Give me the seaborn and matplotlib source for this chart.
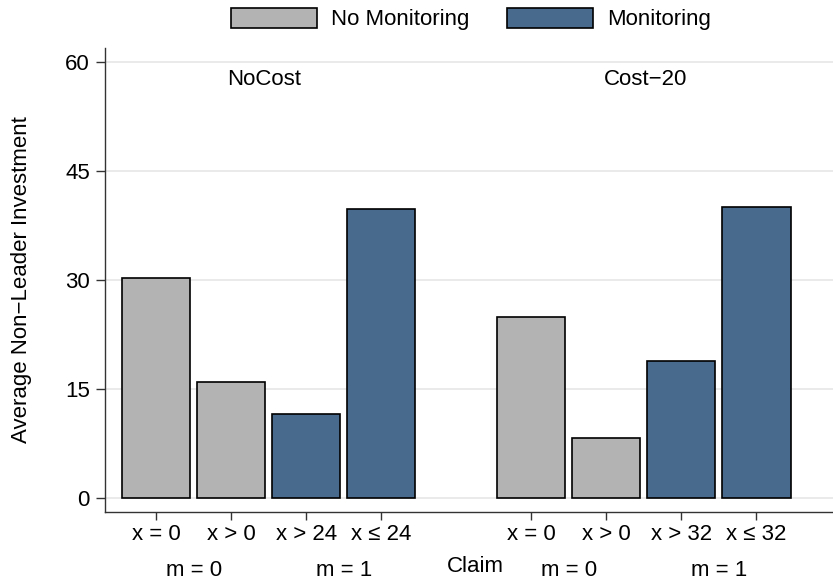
import numpy as np
import pandas as pd
import matplotlib
matplotlib.use("Agg")
import matplotlib.pyplot as plt
import seaborn as sns
from matplotlib.transforms import blended_transform_factory

# ---- data ----
conditions = ["NoCost", "Cost\u221220"]
claim_labels_nocost = ["x = 0", "x > 0", "x > 24", "x \u2264 24"]
claim_labels_cost20 = ["x = 0", "x > 0", "x > 32", "x \u2264 32"]
m_labels = ["m = 0", "m = 1"]
monitoring = ["No Monitoring", "No Monitoring", "Monitoring", "Monitoring"]
nocost_values = [30.2, 15.9, 11.6, 39.75]
cost20_values = [24.9, 8.25, 18.9, 40.0]
y_ticks = [0, 15, 30, 45, 60]

sns.set_theme(style="white")
plt.rcParams["font.family"] = ["Liberation Sans", "DejaVu Sans"]
plt.rcParams["text.color"] = "black"
plt.rcParams["axes.labelcolor"] = "black"
plt.rcParams["xtick.color"] = "black"
plt.rcParams["ytick.color"] = "black"

GRAY = "#b3b3b3"
BLUE = "#486a8c"

rows = []
for g, vals in enumerate([nocost_values, cost20_values]):
    for i, v in enumerate(vals):
        rows.append({"pos": g * 5 + i, "value": v, "monitor": monitoring[i]})
df = pd.DataFrame(rows)

fig = plt.figure(figsize=(8.33, 5.86), dpi=100)
ax = fig.add_axes([105 / 833, 74 / 586, 728 / 833, 464 / 586])

sns.barplot(data=df, x="pos", y="value", hue="monitor",
            hue_order=["No Monitoring", "Monitoring"], palette=[GRAY, BLUE],
            native_scale=True, dodge=False, width=0.907, saturation=1,
            edgecolor="black", linewidth=1.2, ax=ax, zorder=3)

handles, labels = ax.get_legend_handles_labels()
if ax.get_legend() is not None:
    ax.get_legend().remove()

ax.set_xlim(-0.684, 9.02)
ax.set_ylim(-1.925, 61.88)
ax.set_yticks(y_ticks)
ax.set_yticklabels([str(t) for t in y_ticks], fontsize=16)
ax.set_xticks(df["pos"].tolist())
ax.set_xticklabels(claim_labels_nocost + claim_labels_cost20, fontsize=16)

ax.yaxis.grid(True, color="#e6e6e6", linewidth=1.2)
ax.xaxis.grid(False)
ax.set_axisbelow(True)

for s in ["top", "right"]:
    ax.spines[s].set_visible(False)
for s in ["left", "bottom"]:
    ax.spines[s].set_color("#333333")
    ax.spines[s].set_linewidth(1.0)

ax.tick_params(axis="y", direction="out", length=6.5, width=1.0, color="#333333",
               pad=4.3, left=True, labelcolor="black")
ax.tick_params(axis="x", direction="out", length=6, width=1.0, color="#333333",
               pad=3, bottom=True, labelcolor="black")

ax.set_ylabel("Average Non\u2212Leader Investment", fontsize=16, color="black")
ax.yaxis.label.set(ha="center", va="center")
ax.yaxis.set_label_coords((22 - 105) / 728, 0.5)

ax.set_xlabel("Claim", fontsize=16, color="black")
ax.xaxis.label.set(ha="center", va="center")
ax.xaxis.set_label_coords((475 - 105) / 728, (512 - 566) / 464)

trans = blended_transform_factory(ax.transData, ax.transAxes)
for g in range(2):
    for j, lab in enumerate(m_labels):
        xc = g * 5 + j * 2 + 0.5
        ax.text(xc, (512 - 570) / 464, lab, transform=trans, ha="center",
                va="center", fontsize=16, color="black")

ax.text(1.436, 57.5, conditions[0], ha="center", va="center", fontsize=16, color="black")
ax.text(6.516, 57.5, conditions[1], ha="center", va="center", fontsize=16, color="black")

leg = fig.legend(handles, labels, loc="center", bbox_to_anchor=(471 / 833, 1 - 19 / 586),
                 ncol=2, frameon=False, handlelength=3.87, handleheight=1.04,
                 handletextpad=0.63, columnspacing=1.7, fontsize=16)
for p in leg.get_patches():
    p.set_edgecolor("black")
    p.set_linewidth(1.2)
for t in leg.get_texts():
    t.set_color("black")

fig.savefig("out.png", dpi=100)
